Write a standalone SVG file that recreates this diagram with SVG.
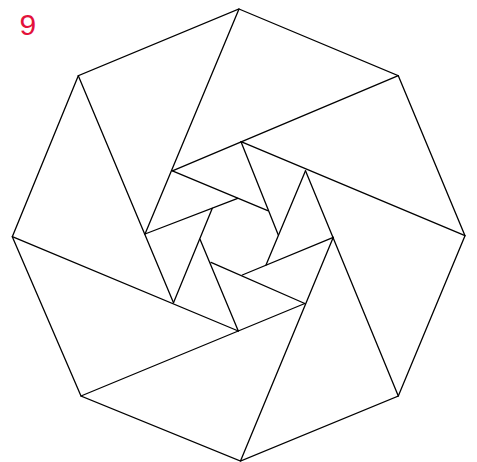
<svg xmlns="http://www.w3.org/2000/svg" width="477" height="462" viewBox="0 0 477 462">
  <style>
    .ln { fill: none; stroke: #000; stroke-width: 1.3; stroke-linejoin: miter; stroke-linecap: round; }
    .lbl { font-family: "Liberation Sans", Arial, sans-serif; font-size: 30px; fill: #e3123b; }
  </style>
  <rect width="477" height="462" fill="#fff"/>
  <text class="lbl" x="19.5" y="35">9</text>
  <g id="outer-octagon">
    <polygon class="ln" points="239,9 398.3,75.7 465,235.7 398.3,396 240.5,461 81,396 12.3,236.7 78.3,75.7"/>
  </g>
  <g id="outer-spiral">
    <line class="ln" x1="239" y1="9" x2="145" y2="234"/>
    <line class="ln" x1="398.3" y1="75.7" x2="172.4" y2="170.8"/>
    <line class="ln" x1="465" y1="235.7" x2="241" y2="141.7"/>
    <line class="ln" x1="398.3" y1="396" x2="305.5" y2="170.8"/>
    <line class="ln" x1="240.5" y1="461" x2="333.3" y2="237.3"/>
    <line class="ln" x1="81" y1="396" x2="304.8" y2="303.5"/>
    <line class="ln" x1="12.3" y1="236.7" x2="238.3" y2="331"/>
    <line class="ln" x1="78.3" y1="75.7" x2="173.5" y2="302.7"/>
  </g>
  <g id="inner-spiral">
    <line class="ln" x1="172.4" y1="170.8" x2="267.7" y2="210.7"/>
    <line class="ln" x1="241" y1="141.7" x2="278.3" y2="235"/>
    <line class="ln" x1="305.5" y1="170.8" x2="266" y2="265"/>
    <line class="ln" x1="333.3" y1="237.3" x2="242.3" y2="275"/>
    <line class="ln" x1="304.8" y1="303.5" x2="211" y2="262.3"/>
    <line class="ln" x1="238.3" y1="331" x2="200" y2="239.3"/>
    <line class="ln" x1="173.5" y1="302.7" x2="212.3" y2="208.3"/>
    <line class="ln" x1="145" y1="234" x2="237.7" y2="198.3"/>
  </g>
</svg>
